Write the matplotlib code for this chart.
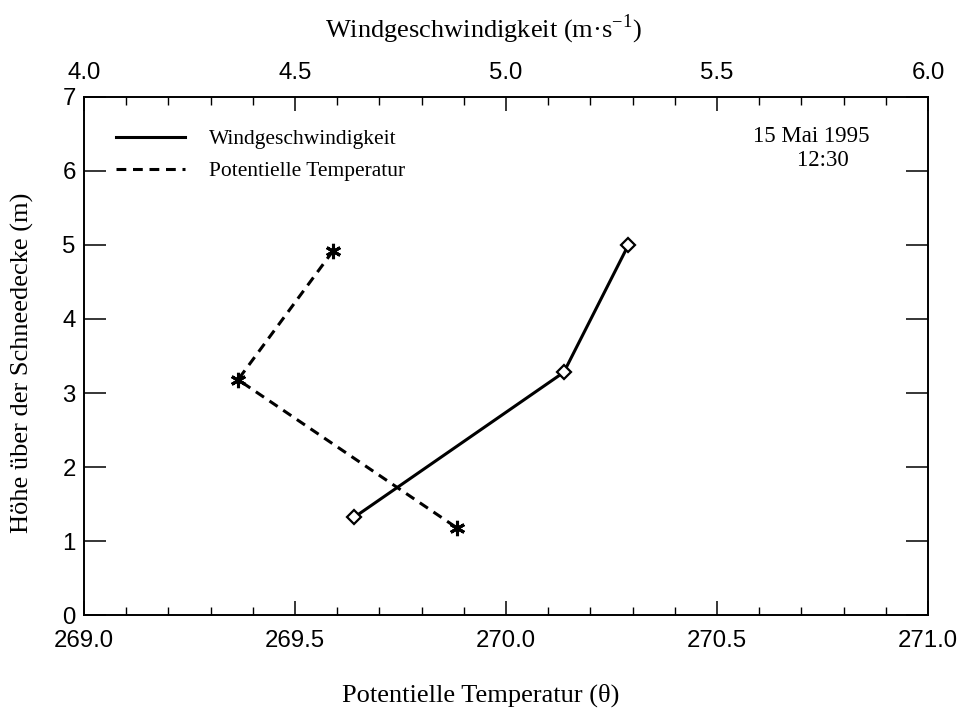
import matplotlib
matplotlib.use("Agg")
import matplotlib.pyplot as plt
from matplotlib.ticker import MultipleLocator, FormatStrFormatter

# Profile heights above the snow cover (m)
hoehe_temp = [4.92, 3.18, 1.18]
theta = [269.59, 269.365, 269.883]
hoehe_wind = [5.0, 3.28, 1.32]
wind = [5.29, 5.137, 4.64]

temp_ticks = [269.0, 269.5, 270.0, 270.5, 271.0]
wind_ticks = [4.0, 4.5, 5.0, 5.5, 6.0]
hoehe_ticks = [0, 1, 2, 3, 4, 5, 6, 7]

serif = ["Liberation Serif", "DejaVu Serif"]
sans = ["Liberation Sans", "DejaVu Sans"]

W, H = 957, 712
fig = plt.figure(figsize=(W / 100, H / 100), dpi=100)
ax = fig.add_axes([0.0878, 0.1362, 0.8819, 0.7276])
ax2 = ax.twiny()

ax.set_xlim(269.0, 271.0)
ax.set_ylim(0, 7)
ax2.set_xlim(4.0, 6.0)

ln_t, = ax.plot(theta, hoehe_temp, color="black", lw=2.2, ls=(0, (3.2, 2.2)),
                marker=(6, 2, 0), markersize=11, markeredgewidth=2.2,
                label="Potentielle Temperatur")
ln_w, = ax2.plot(wind, hoehe_wind, color="black", lw=2.2, ls="-",
                 marker="D", markersize=7, markerfacecolor="white",
                 markeredgewidth=1.6, label="Windgeschwindigkeit")

for a in (ax, ax2):
    for s in a.spines.values():
        s.set_linewidth(1.2)

ax.set_xticks(temp_ticks)
ax.xaxis.set_major_formatter(FormatStrFormatter("%.1f"))
ax.xaxis.set_minor_locator(MultipleLocator(0.1))
ax.set_yticks(hoehe_ticks)
ax.tick_params(axis="x", which="major", direction="in", length=10, width=1.1,
               pad=11, labelsize=17.3)
ax.tick_params(axis="x", which="minor", direction="in", length=6, width=1.0)
ax.tick_params(axis="y", which="major", direction="in", length=16, width=1.1,
               right=True, labelsize=17.3, pad=6)
for lab in ax.get_xticklabels() + ax.get_yticklabels():
    lab.set_family(sans)

ax2.set_xticks(wind_ticks)
ax2.xaxis.set_major_formatter(FormatStrFormatter("%.1f"))
ax2.xaxis.set_minor_locator(MultipleLocator(0.1))
ax2.tick_params(axis="x", which="major", direction="in", length=10, width=1.1,
                pad=9, labelsize=17.3)
ax2.tick_params(axis="x", which="minor", direction="in", length=6, width=1.0)
for lab in ax2.get_xticklabels():
    lab.set_family(sans)

# Axis titles, centred on the page
fig.text(481 / W, 1 - 695 / H, "Potentielle Temperatur (θ)", family=serif,
         fontsize=19, ha="center", va="center")
fig.text(483 / W, 1 - 29 / H, "Windgeschwindigkeit (m·s$^{\\mathregular{-1}}$)",
         family=serif, fontsize=19, ha="center", va="center")
fig.text(22 / W, 1 - 363 / H, "Höhe über der Schneedecke (m)", family=serif,
         fontsize=19, ha="center", va="center", rotation=90)

ax.legend(handles=[ln_w, ln_t], loc="upper left", bbox_to_anchor=(0.015, 0.975),
          frameon=False, handlelength=3.2, handletextpad=1.1, labelspacing=0.55,
          prop={"family": serif, "size": 15.5}, markerscale=0)

ax.text(0.862, 0.9, "15 Mai 1995\n    12:30", transform=ax.transAxes,
        family=serif, fontsize=16.5, ha="center", va="center", linespacing=1.2)

fig.savefig("out.png", dpi=100)
